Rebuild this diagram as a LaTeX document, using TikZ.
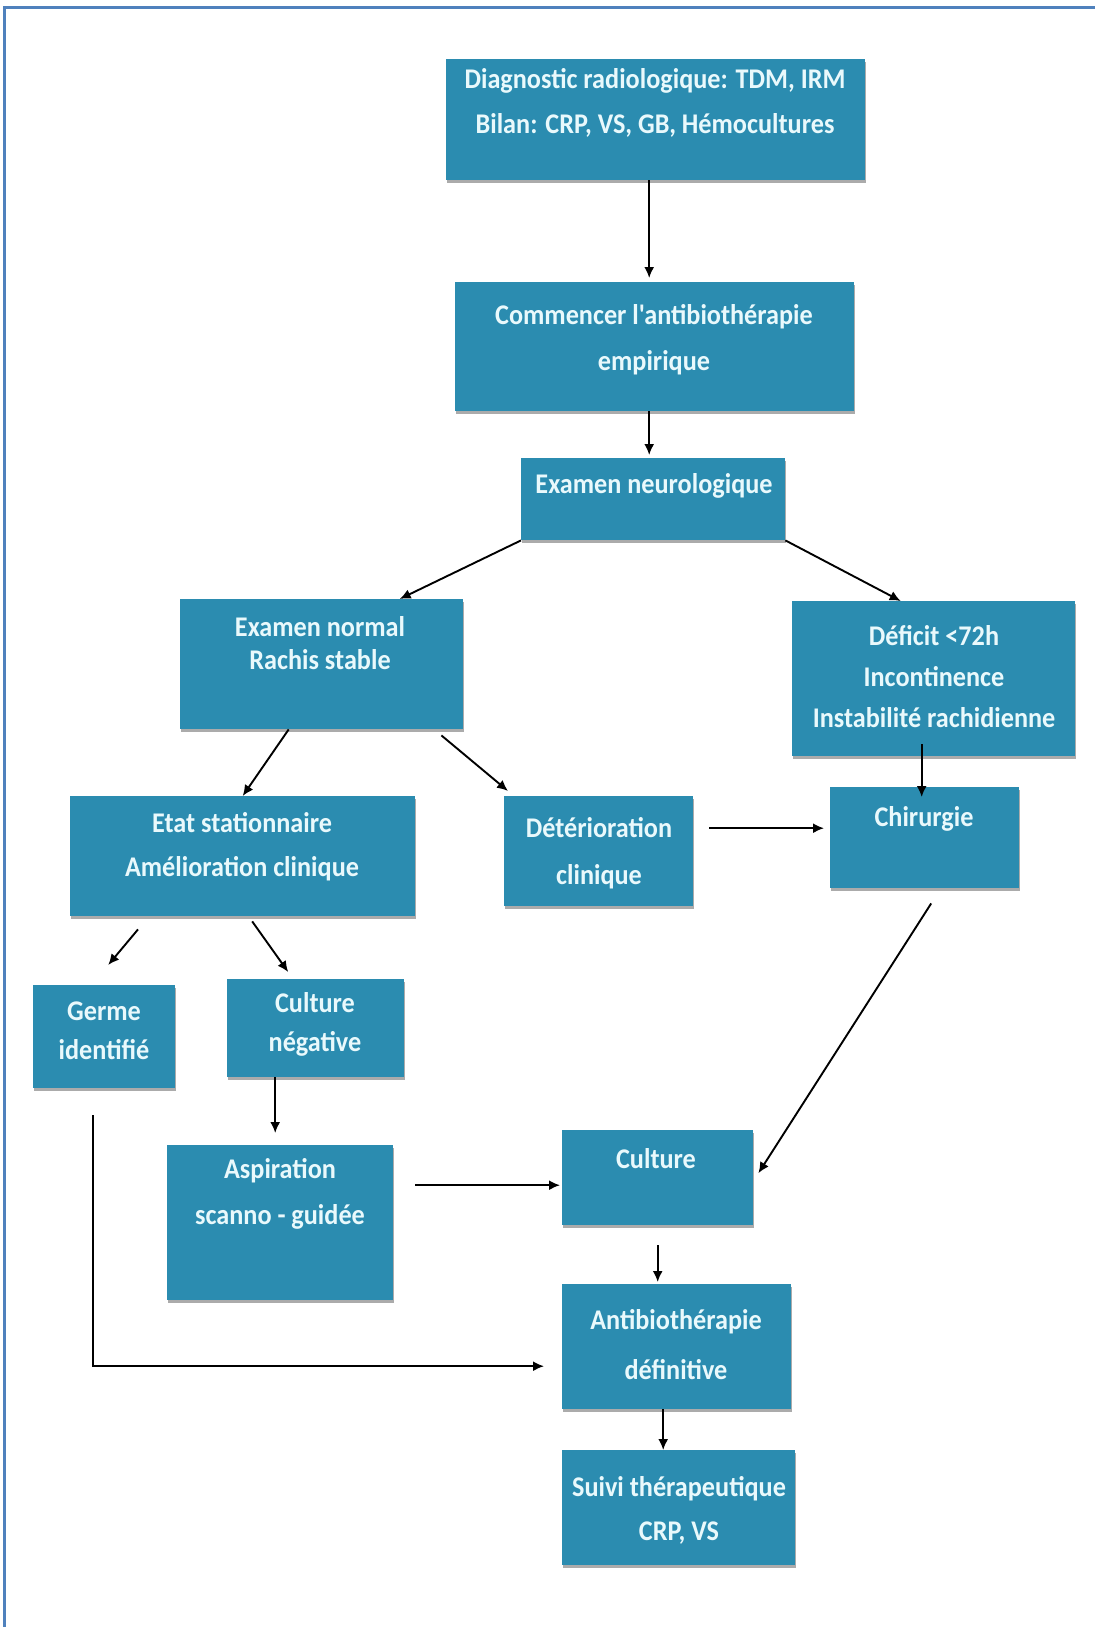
\documentclass[tikz,border=0pt]{standalone}
\usepackage{fontspec}
\setmainfont{Carlito}
\newfontfamily\boxfont[FakeStretch=0.92]{Carlito}
\usetikzlibrary{arrows.meta,shadows}

\definecolor{boxblue}{RGB}{43,140,176}
\definecolor{boxtext}{RGB}{233,249,252}
\definecolor{frameblue}{RGB}{79,129,189}

\tikzset{
  box/.style={anchor=north west, fill=boxblue, inner sep=0pt,
    drop shadow={shadow xshift=1pt, shadow yshift=-3pt, fill=black!55, opacity=0.6}},
  txt/.style={text=boxtext, align=center, inner sep=0pt,
    font=\boxfont\bfseries\fontsize{28.5}{#1}\selectfont},
  txt/.default=45,
  arr/.style={-{Latex[length=11pt,width=10pt]}, line width=1.9pt}
}

\begin{document}
\begin{tikzpicture}[x=1pt, y=-1pt]
\useasboundingbox (0,0) rectangle (1095,1627);

\draw[frameblue, line width=3pt] (4,1627) -- (4,8) -- (1095,8);

\node[box, minimum width=419pt, minimum height=121pt] (diag) at (446,59) {};
\node[box, minimum width=399pt, minimum height=129pt] (empir) at (455,282) {};
\node[box, minimum width=264pt, minimum height=82pt] (neuro) at (521,458) {};
\node[box, minimum width=283pt, minimum height=130pt] (normal) at (180,599) {};
\node[box, minimum width=283pt, minimum height=155pt] (deficit) at (792,601) {};
\node[box, minimum width=345pt, minimum height=120pt] (etat) at (70,796) {};
\node[box, minimum width=189pt, minimum height=110pt] (deter) at (504,796) {};
\node[box, minimum width=189pt, minimum height=101pt] (chir) at (830,787) {};
\node[box, minimum width=142pt, minimum height=103pt] (germe) at (33,985) {};
\node[box, minimum width=177pt, minimum height=98pt] (cneg) at (227,979) {};
\node[box, minimum width=226pt, minimum height=155pt] (aspir) at (167,1145) {};
\node[box, minimum width=191pt, minimum height=95pt] (cult) at (562,1130) {};
\node[box, minimum width=229pt, minimum height=125pt] (abdef) at (562,1284) {};
\node[box, minimum width=233pt, minimum height=115pt] (suivi) at (562,1450) {};

\node[txt] (diag-t) at (655,103) {Diagnostic radiologique: TDM, IRM\\Bilan: CRP, VS, GB, Hémocultures};
\node[txt=46] (empir-t) at (654,340) {Commencer l'antibiothérapie\\empirique};
\node[txt] (neuro-t) at (654,486) {Examen neurologique};
\node[txt=33] (normal-t) at (320,643) {Examen normal\\Rachis stable};
\node[txt=41] (deficit-t) at (934,677) {Déficit <72h\\Incontinence\\Instabilité rachidienne};
\node[txt=44] (etat-t) at (242,847) {Etat stationnaire\\Amélioration clinique};
\node[txt=47] (deter-t) at (599,853) {Détérioration\\clinique};
\node[txt] (chir-t) at (924,819) {Chirurgie};
\node[txt=39] (germe-t) at (104,1031) {Germe\\identifié};
\node[txt=39] (cneg-t) at (315,1024) {Culture\\négative};
\node[txt=46] (aspir-t) at (280,1194) {Aspiration\\scanno - guidée};
\node[txt] (cult-t) at (656,1159) {Culture};
\node[txt=50] (abdef-t) at (676,1345) {Antibiothérapie\\définitive};
\node[txt=44] (suivi-t) at (679,1510) {Suivi thérapeutique\\CRP, VS};

\draw[arr] ([xshift=-6.5pt]diag.south) -- ([xshift=-5.5pt,yshift=4pt]empir.north);

\draw[arr] ([xshift=-5.5pt]empir.south) -- ([xshift=-4pt,yshift=3pt]neuro.north);

\draw[arr] (neuro.south west) -- ([xshift=78pt]normal.north);
\draw[arr] (neuro.south east) -- ([xshift=-33pt]deficit.north);

\draw[arr] ([xshift=-33pt]normal.south) -- (etat.north);
\draw[arr] ([xshift=-22pt,yshift=-6pt]normal.south east) -- ([xshift=4pt,yshift=5pt]deter.north west);

\draw[arr] ([xshift=-12pt,yshift=12pt]deficit.south) -- ([xshift=-3pt,yshift=-10pt]chir.north);
\draw[arr] ([xshift=16pt,yshift=23pt]deter.east) -- ([xshift=-6pt,yshift=9.5pt]chir.west);

\draw[arr] ([xshift=68pt,yshift=-13pt]etat.south west) -- ([xshift=4pt,yshift=20pt]germe.north);
\draw[arr] ([xshift=9.5pt,yshift=-5pt]etat.south) -- ([xshift=-27.5pt,yshift=7pt]cneg.north);

\draw[arr] ([xshift=-40.5pt]cneg.south) -- ([xshift=-5pt,yshift=12pt]aspir.north);
\draw[arr] ([xshift=22pt,yshift=37.5pt]aspir.east) -- ([xshift=-2pt,yshift=-7.5pt]cult.west);

\draw[arr] ([xshift=6.5pt,yshift=-15pt]chir.south) -- ([xshift=5pt,yshift=4.5pt]cult.east);

\draw[arr] ([yshift=-20pt]cult.south) -- ([xshift=-19pt,yshift=2pt]abdef.north);
\draw[arr] ([xshift=-11pt,yshift=-27pt]germe.south) |- ([xshift=-18pt,yshift=-19.5pt]abdef.west);

\draw[arr] ([xshift=-13.5pt]abdef.south) -- ([xshift=-15.5pt]suivi.north);
\end{tikzpicture}
\end{document}
